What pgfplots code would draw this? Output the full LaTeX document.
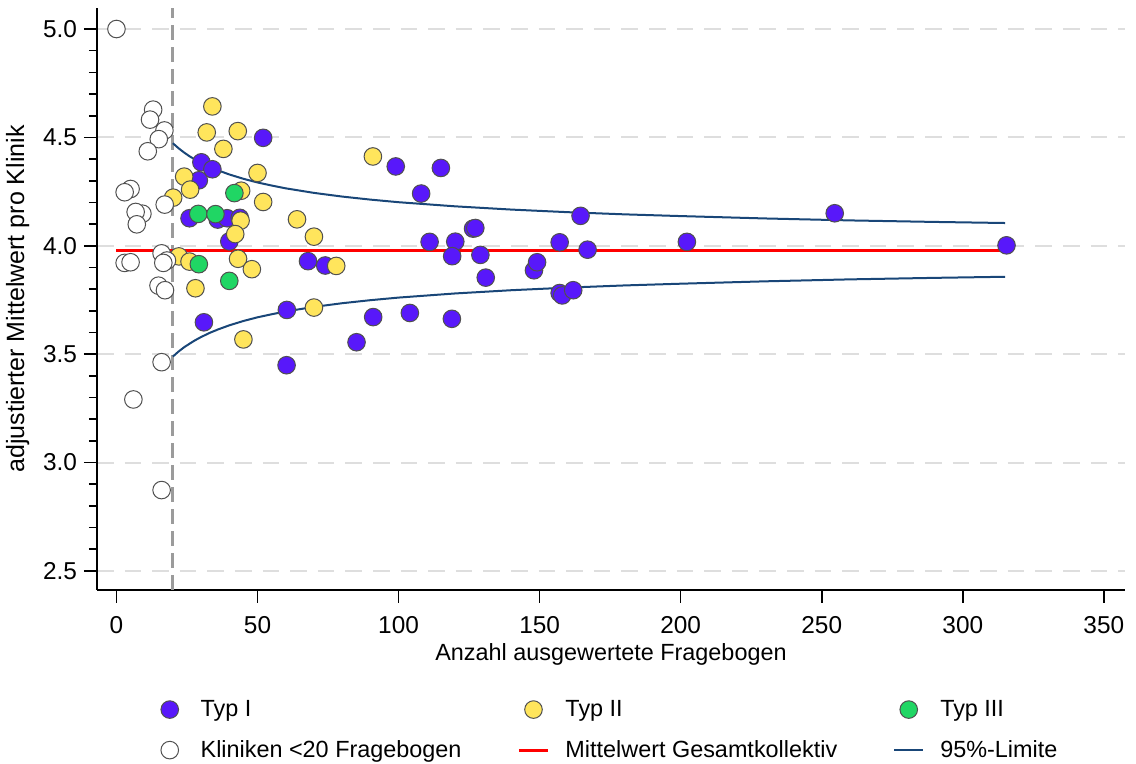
\documentclass[border=0pt]{standalone}
\usepackage{fontspec}
\setmainfont{Liberation Sans}
\usepackage{pgfplots}
\pgfplotsset{compat=1.18}

\definecolor{typI}{RGB}{88,24,250}
\definecolor{typII}{RGB}{255,229,92}
\definecolor{typIII}{RGB}{32,214,100}
\definecolor{edgegray}{RGB}{80,80,80}
\definecolor{limitblue}{RGB}{25,70,120}
\definecolor{gridgray}{RGB}{222,222,222}
\definecolor{cutgray}{RGB}{155,155,155}

\pgfplotsset{
  pt/.style={only marks, mark=*, mark size=4.4pt,
    mark options={draw=edgegray, line width=0.5pt, fill=#1},
    legend image code/.code={\path (0pt,0pt) (14.5pt,0pt);
      \draw[##1] plot coordinates {(7.25pt,0pt)};}},
  lineimg/.style={legend image code/.code={\draw[##1] (0pt,0pt) -- (14.5pt,0pt);}},
}

\begin{document}
\begin{tikzpicture}
\begin{axis}[
  scale only axis,
  width=514pt, height=291pt,
  xmin=-6.9, xmax=357.5, ymin=2.412, ymax=5.097,
  axis lines*=left,
  axis line style={line width=1pt},
  tick align=outside,
  tick style={black, line width=0.8pt},
  major tick length=6.5pt, minor tick length=4pt,
  xtick={0,50,...,350},
  ytick={2.5,3,3.5,4,4.5,5},
  minor y tick num=4,
  ymajorgrids,
  major grid style={gridgray, line width=1pt, dash pattern=on 8.3pt off 5.5pt},
  yticklabel style={/pgf/number format/.cd, fixed, fixed zerofill, precision=1},
  xticklabel style={yshift=-3pt},
  /pgf/number format/assume math mode=true,
  ticklabel style={font=\fontsize{12.2}{14}\selectfont},
  xlabel={Anzahl ausgewertete Fragebogen},
  ylabel={adjustierter Mittelwert pro Klinik},
  xlabel style={font=\fontsize{11.7}{14}\selectfont, yshift=2pt},
  ylabel style={font=\fontsize{12.5}{14}\selectfont},
  legend columns=3,
  legend cell align=left,
  legend style={draw=none, fill=none, inner sep=0pt,
    at={(0.0559,-0.1815)}, anchor=north west,
    font=\fontsize{11.7}{14}\selectfont, row sep=6.5pt,
    /tikz/every odd column/.append style={column sep=6pt},
    /tikz/every even column/.append style={column sep=26pt}},
]

% Grenze 20 Fragebogen
\addplot[forget plot, cutgray, line width=1.5pt, dash pattern=on 7.5pt off 3.5pt]
  coordinates {(20,2.412) (20,5.097)};

% Mittelwert Gesamtkollektiv
\addplot[forget plot, red, line width=1.5pt] coordinates {(0,3.98) (315,3.98)};

% Typ I
\addplot[pt=typI] coordinates {
  (52.0,4.498) (30.1,4.385) (34.0,4.353) (29.2,4.302) (25.9,4.127)
  (35.9,4.121) (39.2,4.127) (43.7,4.129) (40.0,4.020) (31.0,3.647)
  (60.4,3.704) (60.3,3.449) (99.0,4.366) (115.0,4.359) (108.0,4.241)
  (164.5,4.138) (126.4,4.079) (127.2,4.082) (111.0,4.018) (120.1,4.019)
  (119.0,3.952) (129.0,3.958) (130.9,3.853) (157.1,4.016) (167.0,3.982)
  (67.9,3.929) (74.0,3.909) (148.0,3.887) (149.1,3.924) (157.1,3.782)
  (158.0,3.771) (161.9,3.795) (91.0,3.671) (104.0,3.690) (118.9,3.663)
  (85.1,3.555) (254.6,4.150) (202.2,4.018) (315.5,4.002)
};
\addlegendentry{Typ I}

% Typ II
\addplot[pt=typII] coordinates {
  (34.0,4.643) (32.0,4.523) (43.0,4.529) (37.9,4.447) (50.0,4.336)
  (24.0,4.319) (26.1,4.259) (44.2,4.254) (52.0,4.202) (20.1,4.222)
  (44.0,4.116) (42.1,4.054) (22.1,3.951) (25.9,3.927) (43.1,3.940)
  (48.0,3.892) (28.0,3.804) (45.0,3.568) (90.9,4.412) (64.0,4.122)
  (70.0,4.042) (77.9,3.907) (70.0,3.715)
};
\addlegendentry{Typ II}

% Typ III
\addplot[pt=typIII] coordinates {
  (41.8,4.243) (29.0,4.147) (35.1,4.146) (29.2,3.915) (40.0,3.838)
};
\addlegendentry{Typ III}

% Kliniken mit weniger als 20 Frageboegen
\addplot[pt=white] coordinates {
  (0.0,5.000) (13.0,4.628) (11.9,4.582) (17.0,4.532) (15.0,4.492)
  (11.1,4.436) (5.0,4.262) (2.9,4.247) (9.2,4.148) (6.8,4.156)
  (7.2,4.099) (17.1,4.190) (16.0,3.965) (17.9,3.932) (16.6,3.921)
  (2.9,3.921) (5.0,3.924) (14.9,3.816) (17.2,3.795) (16.0,3.463)
  (6.0,3.291) (16.0,2.873)
};
\addlegendentry{Kliniken <20 Fragebogen}

\addlegendimage{lineimg, red, line width=1.5pt}
\addlegendentry{Mittelwert Gesamtkollektiv}

% 95%-Limiten
\addplot[lineimg, limitblue, line width=1pt] coordinates {
  (20,4.473) (22,4.450) (24,4.430) (26,4.412) (28,4.397) (30,4.383)
  (33,4.364) (36,4.348) (40,4.329) (45,4.309) (50,4.292) (55,4.278)
  (60,4.265) (70,4.244) (80,4.227) (90,4.213) (100,4.201) (120,4.182)
  (140,4.167) (160,4.155) (180,4.145) (200,4.137) (230,4.126) (260,4.117)
  (290,4.110) (315,4.105)
};
\addlegendentry{95\%-Limite}
\addplot[forget plot, limitblue, line width=1pt] coordinates {
  (20,3.489) (22,3.512) (24,3.532) (26,3.549) (28,3.565) (30,3.579)
  (33,3.598) (36,3.614) (40,3.633) (45,3.653) (50,3.670) (55,3.684)
  (60,3.697) (70,3.718) (80,3.735) (90,3.749) (100,3.761) (120,3.780)
  (140,3.795) (160,3.807) (180,3.817) (200,3.825) (230,3.836) (260,3.845)
  (290,3.852) (315,3.857)
};
\end{axis}
\pgfresetboundingbox
\path ([xshift=-48.5pt,yshift=-87pt]current axis.south west)
  ([xshift=519.5pt,yshift=295pt]current axis.south west);
\end{tikzpicture}
\end{document}
